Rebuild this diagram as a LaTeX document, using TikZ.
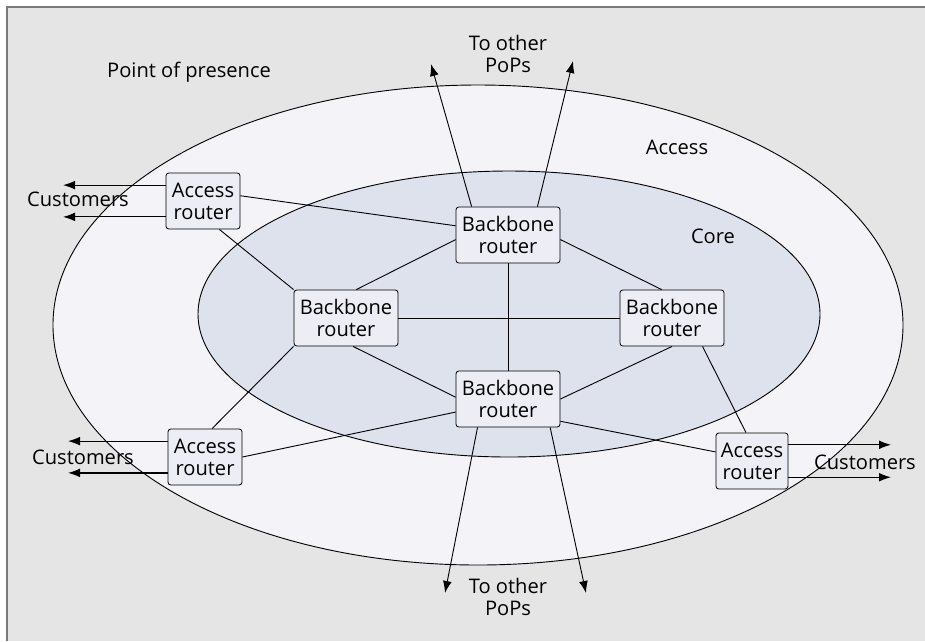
\documentclass[tikz,border=0pt]{standalone}
\usepackage{fontspec}
\setmainfont{Open Sans}
\usetikzlibrary{arrows.meta}
\definecolor{popgray}{HTML}{E5E5E5}
\definecolor{framegray}{HTML}{7A7A7A}
\definecolor{accessfill}{HTML}{F4F4F8}
\definecolor{corefill}{HTML}{DEE2EC}
\definecolor{routerfill}{HTML}{ECEDF5}
\tikzset{
  routerbox/.style={draw,rounded corners=2pt,fill=routerfill,align=center,inner sep=0pt,minimum height=1.4cm,line width=.6pt},
  bbbox/.style={routerbox,minimum width=2.6cm},
  accbox/.style={routerbox,minimum width=1.85cm},
  plain/.style={align=center},
  link/.style={line width=.65pt},
  outarr/.style={-{Latex[length=3mm,width=2.2mm]},line width=.65pt},
  custarr/.style={-{Latex[length=3mm,width=2.2mm]},line width=.85pt}
}

\begin{document}
\begin{tikzpicture}[x=0.025cm,y=-0.025cm,font=\fontsize{14.3}{15.6}\selectfont]
  \useasboundingbox (0,0) rectangle (925,641);
  % frame
  \fill[popgray] (7,7) rectangle (925,641);
  \draw[framegray,line width=1.3pt] (7,641)--(7,7)--(925,7);

  % access and core areas
  \draw[fill=accessfill,line width=.65pt] (478,325) ellipse [x radius=425,y radius=240];
  \draw[fill=corefill,line width=.65pt] (509,314) ellipse [x radius=311,y radius=143];

  \node[plain] (pop) at (189,72) {Point of presence};
  \node[plain] (acc) at (677,147) {Access};
  \node[plain] (core) at (713,236) {Core};

  % routers
  \node[bbbox] (bbT) at (508,235) {Backbone\\router};
  \node[bbbox] (bbL) at (346,318) {Backbone\\router};
  \node[bbbox] (bbR) at (672,318) {Backbone\\router};
  \node[bbbox] (bbB) at (508,399) {Backbone\\router};
  \node[accbox] (atl) at (203,201) {Access\\router};
  \node[accbox] (abl) at (205,457) {Access\\router};
  \node[accbox,minimum width=1.8cm] (ar) at (752,461) {Access\\router};

  % core mesh
  \draw[link] (bbT.south) -- (bbB.north);
  \draw[link] (bbL.east) -- (bbR.west);
  \draw[link] (bbT.185) -- (bbL.70);
  \draw[link] (bbT.355) -- (bbR.110);
  \draw[link] (bbL.-76) -- (bbB.178);
  \draw[link] (bbR.south) -- (bbB.east);

  % access links
  \draw[link] (atl.8) -- (bbT.170);
  \draw[link] (atl.-60) -- (bbL.north west);
  \draw[link] (abl.76) -- (bbL.south west);
  \draw[link] (abl.east) -- (bbB.194);
  \draw[link] (bbR.-43) -- (ar.102);
  \draw[link] (bbB.-23) -- (ar.166);

  % to other PoPs
  \coordinate (upL) at (431,64);
  \coordinate (upR) at (573,61);
  \coordinate (dnL) at (445,593);
  \coordinate (dnR) at (586,593);
  \draw[outarr] (bbT.142) -- (upL);
  \draw[outarr] (bbT.44) -- (upR);
  \draw[outarr] (bbB.223) -- (dnL);
  \draw[outarr] (bbB.-34) -- (dnR);
  \node[plain] (popup) at (508,54) {To other\\PoPs};
  \node[plain] (popdn) at (508,597) {To other\\PoPs};

  % customers
  \coordinate (custL) at (63,0);
  \coordinate (custBL) at (68,0);
  \coordinate (custR) at (891,0);
  \draw[custarr] (atl.157) -- (atl.157 -| custL);
  \draw[custarr] (atl.203) -- (atl.203 -| custL);
  \draw[custarr] (abl.157) -- (abl.157 -| custBL);
  \draw[custarr] (abl.203) -- (abl.203 -| custBL);
  \draw[custarr] (ar.24) -- (ar.24 -| custR);
  \draw[custarr] (ar.-24) -- (ar.-24 -| custR);
  \node[plain] (custtl) at (78,199) {Customers};
  \node[plain] (custbl) at (83,457) {Customers};
  \node[plain] (custr) at (865,462) {Customers};
\end{tikzpicture}
\end{document}
